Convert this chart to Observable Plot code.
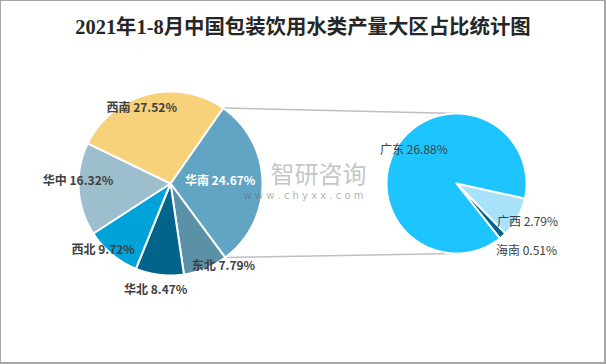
<!DOCTYPE html>
<html><head><meta charset="utf-8">
<script src="https://cdn.jsdelivr.net/npm/d3@7"></script>
<script src="https://cdn.jsdelivr.net/npm/@observablehq/plot@0.6"></script>
<style>
body{margin:0;background:#fff}
#wrap{position:relative;width:606px;height:364px;overflow:hidden;background:#fff}
#title{position:absolute;top:15px;left:0;width:606px;text-align:center;white-space:nowrap;font:bold 20.4px/24px "Liberation Serif","Noto Sans CJK SC",serif;color:#262626}
#chart{position:absolute;left:0;top:46px}
#frame{position:absolute;left:0;top:0;width:606px;height:364px;box-sizing:border-box;border:1px solid #a6a6a6;border-right-width:2px;border-bottom-width:2px;pointer-events:none}
</style></head>
<body><div id="wrap"><div id="title">2021年1-8月中国包装饮用水类产量大区占比统计图</div><div id="chart"></div><div id="frame"></div></div>
<script>
// ---- data ----
const leftCategories = ["华南", "东北", "华北", "西北", "华中", "西南"];
const leftPercents   = [24.67, 7.79, 8.47, 9.72, 16.32, 27.52];
const leftColors     = ["#62A4C4", "#5B91A7", "#02648A", "#00A2DA", "#9DBECC", "#F7D27A"];
const rightCategories = ["广西", "海南", "广东"];
const rightPercents   = [2.79, 0.51, 26.88];
const rightColors     = ["#A8E2FA", "#02648A", "#1EC4FE"];
const splitCategory = "华南";
const watermark = ["智研咨询", "w w w . c h y x x . c o m"];

// ---- layout ----
const TOP = 46, W = 606, H = 364 - TOP;
const leftPie  = {cx: 170, cy: 183, r: 92, start: 34.9};
const rightPie = {cx: 456, cy: 183, r: 70, start: 102.4};
// [angle offset from slice middle (deg), radius factor]
const labelPlace = {
  "华南": [-1.5, 0.54], "东北": [-10.2, 1.066], "华北": [1.1, 1.167],
  "西北": [5.5, 1.033], "华中": [4.9, 1.005], "西南": [-6.2, 0.88],
  "广西": [-0.6, 1.154], "海南": [-4.8, 1.389], "广东": [5.7, 0.769]
};

const rightTotal = d3.sum(rightPercents);
const leftSizes = leftCategories.map((c, i) => c === splitCategory ? rightTotal : leftPercents[i]);

function slices(pie, cats, sizes, pcts, colors) {
  const total = d3.sum(sizes);
  let a = pie.start;
  return cats.map((c, i) => {
    const span = sizes[i] / total * 360;
    const s = {name: c, pct: pcts[i], a0: a, a1: a + span, color: colors[i], pie};
    a += span;
    return s;
  });
}
function pt(pie, ang, rad) {
  const t = ang * Math.PI / 180;
  return [pie.cx + rad * Math.sin(t), pie.cy - rad * Math.cos(t)];
}
function polygon(s) {
  const pie = s.pie;
  const pts = [[pie.cx, pie.cy]];
  const n = Math.max(2, Math.ceil(s.a1 - s.a0));
  for (let i = 0; i <= n; i++) pts.push(pt(pie, s.a0 + (s.a1 - s.a0) * i / n, pie.r));
  pts.push([pie.cx, pie.cy]);
  return pts.map(([x, y]) => ({x, y, name: s.name, color: s.color}));
}
function tangent(P, pie, top) {
  const vx = P[0] - pie.cx, vy = P[1] - pie.cy;
  const d = Math.hypot(vx, vy), th = Math.atan2(vy, vx), al = Math.acos(pie.r / d);
  const c = [th + al, th - al].map(t => [pie.cx + pie.r * Math.cos(t), pie.cy + pie.r * Math.sin(t)]);
  c.sort((a, b) => a[1] - b[1]);
  return top ? c[0] : c[1];
}

const L = slices(leftPie, leftCategories, leftSizes, leftPercents, leftColors);
const R = slices(rightPie, rightCategories, rightPercents, rightPercents, rightColors);
const split = L.find(s => s.name === splitCategory);
const pA = pt(leftPie, split.a0, leftPie.r), pB = pt(leftPie, split.a1, leftPie.r);
const tA = tangent(pA, rightPie, true), tB = tangent(pB, rightPie, false);
const connectors = [
  {x1: pA[0], y1: pA[1], x2: tA[0], y2: tA[1]},
  {x1: pB[0], y1: pB[1], x2: tB[0], y2: tB[1]}
];
const polys = [...L, ...R].flatMap(polygon);
const labels = [...L, ...R].map(s => {
  const [off, k] = labelPlace[s.name];
  const [x, y] = pt(s.pie, (s.a0 + s.a1) / 2 + off, s.pie.r * k);
  const inside = s.name === splitCategory;
  return {x, y, text: `${s.name} ${s.pct.toFixed(2)}%`, fill: inside ? "#ffffff" : "#404040",
          bold: s.pie === leftPie};
});

const chart = Plot.plot({
  width: W, height: H, margin: 0,
  x: {domain: [0, W], range: [0, W], axis: null},
  y: {domain: [TOP, 364], range: [0, H], axis: null},
  color: {type: "identity"},
  style: {background: "transparent"},
  marks: [
    Plot.link(connectors, {x1: "x1", y1: "y1", x2: "x2", y2: "y2", stroke: "#BFBFBF", strokeWidth: 1.5}),
    Plot.line(polys, {x: "x", y: "y", z: "name", fill: "color", stroke: "#ffffff", strokeWidth: 2, strokeLinejoin: "round"}),
    Plot.text(labels.filter(d => d.bold), {x: "x", y: "y", text: "text", fill: "fill", fontSize: 12, fontWeight: "bold", fontFamily: "Noto Sans CJK SC, sans-serif"}),
    Plot.text(labels.filter(d => !d.bold), {x: "x", y: "y", text: "text", fill: "fill", fontSize: 12, fontFamily: "Noto Sans CJK SC, sans-serif"}),
    Plot.text([watermark[0]], {x: () => 318, y: () => 175, text: d => d, fontSize: 24, fill: "#8c8c8c", fillOpacity: 0.5, fontFamily: "Noto Sans CJK SC, sans-serif"}),
    Plot.text([watermark[1]], {x: () => 303, y: () => 195, text: d => d, fontSize: 10, fill: "#666666", fillOpacity: 0.5, fontFamily: "DejaVu Sans, sans-serif"})
  ]
});
document.getElementById("chart").appendChild(chart);
</script>
</body></html>
